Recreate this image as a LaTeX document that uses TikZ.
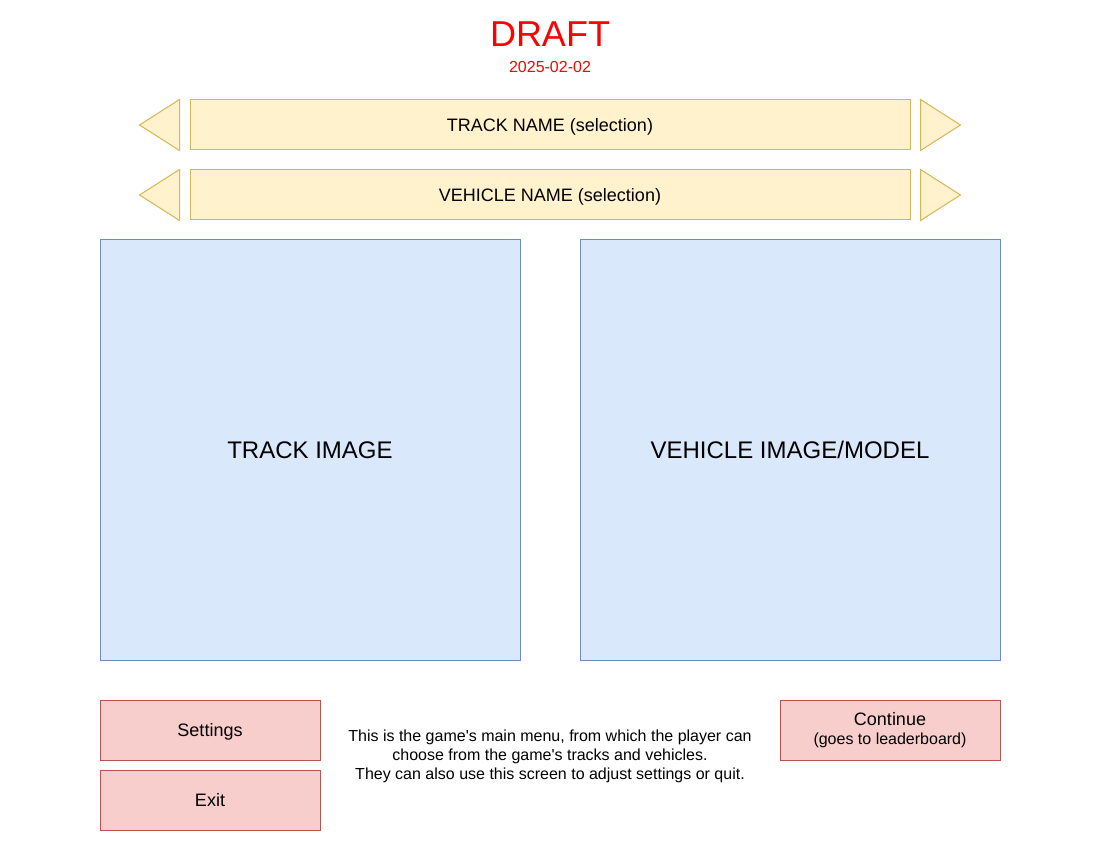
\documentclass[tikz,border=0pt]{standalone}
\usepackage{fontspec}
\setmainfont{Liberation Sans}
\usepackage{tikz}
\usetikzlibrary{calc}
\definecolor{selfill}{HTML}{FFF2CC}
\definecolor{selline}{HTML}{D6B656}
\definecolor{imgfill}{HTML}{DAE8FC}
\definecolor{imgline}{HTML}{6C8EBF}
\definecolor{btnfill}{HTML}{F8CECC}
\definecolor{btnline}{HTML}{B85450}
\definecolor{draftred}{HTML}{FF0000}

\begin{document}
\begin{tikzpicture}[x=1pt,y=-1pt]
    \tikzset{
      sel/.style={draw=selline, fill=selfill, line width=1pt, minimum width=720pt, minimum height=50pt, inner sep=0pt, text height=12.9pt, text depth=0pt, font=\fontsize{18}{21}\selectfont},
      arr/.style={draw=selline, fill=selfill, line width=1pt, line join=miter},
      img/.style={draw=imgline, fill=imgfill, line width=1pt, minimum width=420pt, minimum height=420pt, inner sep=0pt, font=\fontsize{24}{28}\selectfont},
      btn/.style={draw=btnline, fill=btnfill, line width=1pt, minimum width=220pt, minimum height=60pt, inner sep=0pt, font=\fontsize{18}{21}\selectfont, align=center}
    }
    \useasboundingbox (0,0) rectangle (1100,850);
    \node [text=draftred, font=\fontsize{36}{40}\selectfont] (draft) at (550,34) {DRAFT};
    \node [text=draftred, font=\fontsize{16}{19}\selectfont] (date) at (550,67) {2025-02-02};

    \node [sel] (track) at (550,125) {TRACK NAME (selection)};
    \node [sel] (vehicle) at (550,195) {VEHICLE NAME (selection)};
    % selection arrows
    \foreach \n in {track, vehicle} {
      \draw [arr] ($(\n.north west)+(-10,0)$) -- ($(\n.south west)+(-10,0)$) -- ($(\n.west)+(-50,0)$) -- cycle;
      \draw [arr] ($(\n.north east)+(10,0)$) -- ($(\n.south east)+(10,0)$) -- ($(\n.east)+(50,0)$) -- cycle;
    }

    \node [img] (trackimg) at (310,450) {TRACK IMAGE};
    \node [img] (vehicleimg) at (790,450) {VEHICLE IMAGE/MODEL};

    \node [btn, text height=12.9pt, text depth=0pt] (settings) at (210,730) {Settings};
    \node [btn, text height=12.9pt, text depth=0pt] (exit) at (210,800) {Exit};
    \node [btn] (continue) at (890,730.5) {Continue\\[-2pt]{\fontsize{16}{19}\selectfont (goes to leaderboard)}};

    \node [align=center, font=\fontsize{16}{19}\selectfont] (info) at (550,756) {This is the game\textquotesingle s main menu, from which the player can\\choose from the game\textquotesingle s tracks and vehicles.\\They can also use this screen to adjust settings or quit.};
\end{tikzpicture}
\end{document}
